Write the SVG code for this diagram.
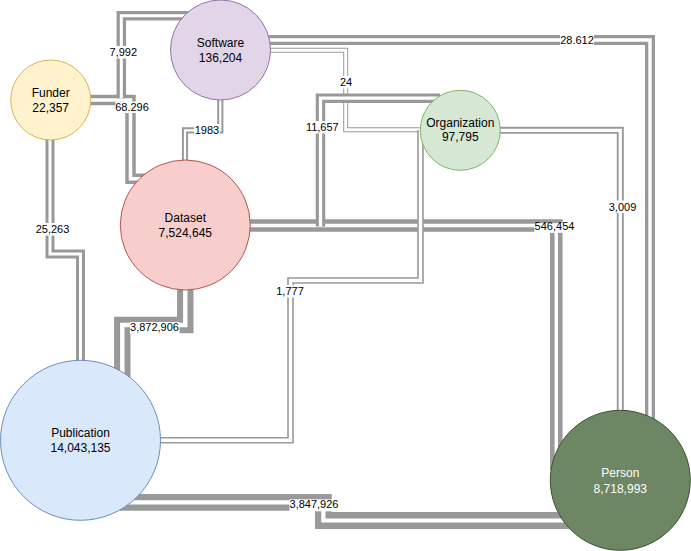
<svg xmlns="http://www.w3.org/2000/svg" xmlns:xlink="http://www.w3.org/1999/xlink" width="691" height="551" viewBox="0 0 691 551">
<style>
.o{fill:none;stroke:#999999;stroke-linejoin:miter;stroke-miterlimit:10;stroke-linecap:butt}
.i{fill:none;stroke:#ffffff;stroke-linejoin:miter;stroke-miterlimit:10;stroke-linecap:butt}
.lb{fill:#ffffff}
.lt{font-family:"Liberation Sans",Arial,sans-serif;font-size:11px;fill:#000;text-anchor:middle}
.nt{font-family:"Liberation Sans",Arial,sans-serif;font-size:12px;fill:#000;text-anchor:middle}
</style>
<defs>
<path id="p1" d="M80,100 H130.5 V178.7 H150"/>
<path id="p2" d="M121.3,98.3 V15.7 H200"/>
<path id="p3" d="M220.3,90 V130.3 H185 V170"/>
<path id="p4" d="M250,40 H650 V430"/>
<path id="p5" d="M260,50.2 H345.7 V129.7 H430"/>
<path id="p7" d="M240,225.5 H556.3 V470"/>
<path id="p6" d="M440,98.2 H320.5 V226.5"/>
<path id="p8" d="M490,130.3 H620.3 V420"/>
<path id="p9" d="M420.5,130 V280.5 H290.5 V440.3 H150"/>
<path id="p10" d="M50,130 V254 H80.5 V370"/>
<path id="p11" d="M185.3,280 V325 H122.3 V380"/>
<path id="p12" d="M120,502.35 H323.35 V520.5 H580"/>
</defs>
<g id="connectors">
<g id="e-funder-dataset"><use xlink:href="#p1" class="o" stroke-width="10.5"/><use xlink:href="#p1" class="i" stroke-width="3.5"/></g>
<g id="e-funder-software"><use xlink:href="#p2" class="o" stroke-width="9.5"/><use xlink:href="#p2" class="i" stroke-width="3"/></g>
<g id="e-software-dataset"><use xlink:href="#p3" class="o" stroke-width="6.2"/><use xlink:href="#p3" class="i" stroke-width="2.2"/></g>
<g id="e-software-person"><use xlink:href="#p4" class="o" stroke-width="10"/><use xlink:href="#p4" class="i" stroke-width="3.4"/></g>
<g id="e-software-organization"><use xlink:href="#p5" class="o" stroke-width="5"/><use xlink:href="#p5" class="i" stroke-width="3"/></g>
<g id="e-dataset-person"><use xlink:href="#p7" class="o" stroke-width="12.5"/><use xlink:href="#p7" class="i" stroke-width="3.4"/></g>
<g id="e-organization-dataset"><use xlink:href="#p6" class="o" stroke-width="9.5"/><use xlink:href="#p6" class="i" stroke-width="3.2"/></g>
<g id="e-organization-person"><use xlink:href="#p8" class="o" stroke-width="7"/><use xlink:href="#p8" class="i" stroke-width="3.3"/></g>
<g id="e-organization-publication"><use xlink:href="#p9" class="o" stroke-width="6.6"/><use xlink:href="#p9" class="i" stroke-width="3.4"/></g>
<g id="e-funder-publication"><use xlink:href="#p10" class="o" stroke-width="9"/><use xlink:href="#p10" class="i" stroke-width="3"/></g>
<g id="e-dataset-publication"><use xlink:href="#p11" class="o" stroke-width="16.4"/><use xlink:href="#p11" class="i" stroke-width="4.4"/></g>
<g id="e-publication-person"><use xlink:href="#p12" class="o" stroke-width="16.8"/><use xlink:href="#p12" class="i" stroke-width="4.2"/></g>
<g id="edge-labels">
<rect class="lb" x="109.5" y="46" width="27.5" height="12.5"/><text class="lt" x="123.3" y="56">7,992</text>
<rect class="lb" x="115.5" y="101.5" width="33" height="11.5"/><text class="lt" x="132" y="111.2">68.296</text>
<rect class="lb" x="194" y="124" width="26" height="12.5"/><text class="lt" x="207" y="134.2">1983</text>
<rect class="lb" x="339" y="76" width="14" height="12.5"/><text class="lt" x="346" y="86.3">24</text>
<rect class="lb" x="305.5" y="121" width="33.5" height="12.5"/><text class="lt" x="322.3" y="131.3">11,657</text>
<rect class="lb" x="560" y="34" width="34" height="12.5"/><text class="lt" x="577" y="44">28.612</text>
<rect class="lb" x="534.5" y="223.2" width="40.5" height="9.6"/><text class="lt" x="554.5" y="230.2">546,454</text>
<rect class="lb" x="608" y="200.5" width="29" height="12.5"/><text class="lt" x="622.5" y="210.7">3,009</text>
<rect class="lb" x="276" y="285" width="28" height="12.5"/><text class="lt" x="290" y="295">1,777</text>
<rect class="lb" x="35" y="223" width="35" height="12.5"/><text class="lt" x="52.5" y="233">25,263</text>
<rect class="lb" x="130" y="322" width="49.5" height="12"/><text class="lt" x="154.5" y="331.3">3,872,906</text>
<rect class="lb" x="289.5" y="499.3" width="49" height="12"/><text class="lt" x="314" y="508.2">3,847,926</text>
</g>
</g>
<g id="node-software"><circle cx="220.5" cy="50" r="50" fill="#e1d5e7" stroke="#9673a6"/><text class="nt" x="220.5" y="47.3">Software</text><text class="nt" x="220.5" y="62.3">136,204</text></g>
<g id="node-funder"><circle cx="50.7" cy="100" r="40" fill="#fff2cc" stroke="#d6b656"/><text class="nt" x="50.7" y="97">Funder</text><text class="nt" x="50.7" y="111.7">22,357</text></g>
<g id="node-dataset"><circle cx="185.3" cy="225" r="65" fill="#f8cecc" stroke="#b85450"/><text class="nt" x="185.3" y="222">Dataset</text><text class="nt" x="185.3" y="237">7,524,645</text></g>
<g id="node-organization"><circle cx="460.3" cy="130.3" r="40" fill="#d5e8d4" stroke="#82b366"/><text class="nt" x="460.3" y="127">Organization</text><text class="nt" x="460.3" y="141">97,795</text></g>
<g id="node-publication"><circle cx="80.5" cy="440.3" r="80" fill="#dae8fc" stroke="#6c8ebf"/><text class="nt" x="80.5" y="437">Publication</text><text class="nt" x="80.5" y="452">14,043,135</text></g>
<g id="node-person"><circle cx="620.3" cy="480.3" r="70" fill="#6d8764" stroke="#3a5431"/><text class="nt" x="620.3" y="477" fill="#ffffff" style="fill:#fff">Person</text><text class="nt" x="620.3" y="492.5" style="fill:#fff">8,718,993</text></g>
</svg>
